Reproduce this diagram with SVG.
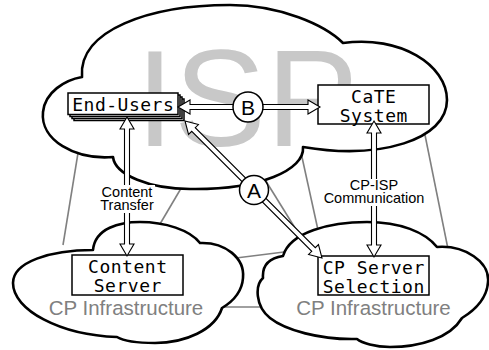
<svg xmlns="http://www.w3.org/2000/svg" width="489" height="350" viewBox="0 0 489 350">
<style>
.cloud{fill:#fff;stroke:#000;stroke-width:2.6;stroke-linejoin:round}
.link{stroke:#808080;stroke-width:1.6;fill:none}
.box{fill:#fff;stroke:#000;stroke-width:1.5}
.mono{font-family:"DejaVu Sans Mono","Liberation Mono",monospace;font-size:18px;letter-spacing:0.5px;fill:#000;text-anchor:middle}
.infra{font-family:"Liberation Sans",Arial,sans-serif;font-size:20.5px;fill:#808080;text-anchor:middle}
.lbl{font-family:"Liberation Sans",Arial,sans-serif;font-size:14.5px;fill:#000;text-anchor:middle}
.arrow{fill:#fff;stroke:#000;stroke-width:1.1;stroke-linejoin:miter}
.circ{fill:#fff;stroke:#000;stroke-width:1.5}
.ctext{font-family:"Liberation Sans",Arial,sans-serif;font-size:21px;fill:#000;text-anchor:middle}
</style>
<rect width="489" height="350" fill="#fff"/>
<g id="links">
<line class="link" x1="78" y1="153" x2="63" y2="245"/>
<line class="link" x1="183" y1="185" x2="160" y2="224"/>
<line class="link" x1="236" y1="258" x2="284" y2="252"/>
<line class="link" x1="220" y1="307" x2="264" y2="307"/>
<line class="link" x1="264" y1="178" x2="300" y2="236"/>
<line class="link" x1="300" y1="148" x2="318" y2="230"/>
<line class="link" x1="424" y1="130" x2="448" y2="249"/>
</g>
<g id="isp-cloud">
<path class="cloud" d="M 82,77 C 78,30 150,5 230,5 C 280,5 325,25 343,43 C 400,35 447,65 447,100 C 447,140 380,160 303,147 C 305,170 260,190 190,189 C 150,189 115,175 113,157 C 75,160 40,140 43,112 C 45,92 65,80 82,77 Z"/>
<text x="247" y="146" font-family="'Liberation Sans',Arial,sans-serif" font-size="138" fill="#c8c8c8" text-anchor="middle">ISP</text>
</g>
<g id="cp-cloud-left">
<path class="cloud" d="M 93,250 C 95,228 120,222 140,222 C 165,222 190,230 200,243 C 225,242 245,258 243,278 C 242,292 232,302 222,308 C 215,330 185,343 155,343 C 135,343 122,340 117,337 C 60,335 13,310 13,283 C 13,262 50,250 93,250 Z"/>
<text class="infra" x="126" y="315">CP Infrastructure</text>
</g>
<g id="cp-cloud-right">
<path class="cloud" d="M 283,256 C 290,232 330,222 367,222 C 400,222 425,232 437,247 C 465,245 490,262 488,282 C 487,298 475,310 462,318 C 450,338 420,347 390,347 C 375,347 362,343 357,339 C 320,340 285,330 270,318 C 255,306 255,285 263,278 C 262,265 270,258 283,256 Z"/>
<text class="infra" x="373.5" y="315">CP Infrastructure</text>
</g>
<g id="end-users">
<rect class="box" x="74" y="99" width="110" height="21.5"/>
<rect class="box" x="72" y="97" width="110" height="21.5"/>
<rect class="box" x="70" y="95" width="110" height="21.5"/>
<rect class="box" x="68" y="93" width="110" height="21.5"/>
<text class="mono" x="123.3" y="110.5">End-Users</text>
</g>
<g id="cate-system">
<rect class="box" x="318" y="85" width="111" height="39"/>
<text class="mono" x="373.8" y="103">CaTE</text>
<text class="mono" x="373.8" y="121.5">System</text>
</g>
<g id="content-server">
<rect class="box" x="72" y="255" width="111" height="40"/>
<text class="mono" x="127.8" y="273">Content</text>
<text class="mono" x="127.8" y="291.5">Server</text>
</g>
<g id="cp-server-selection">
<rect class="box" x="318" y="256" width="111" height="39"/>
<text class="mono" x="373.8" y="274">CP Server</text>
<text class="mono" x="373.8" y="292.5">Selection</text>
</g>
<g id="connectors">
<polygon class="arrow" points="127,117 134,129 129.5,129 129.5,244 134,244 127,256 120,244 124.5,244 124.5,129 120,129"/>
<polygon class="arrow" points="374,121 381,133 376.5,133 376.5,245 381,245 374,257 367,245 371.5,245 371.5,133 367,133"/>
<polygon class="arrow" points="178,107 190,100 190,104.5 308,104.5 308,100 320,107 308,114 308,109.5 190,109.5 190,114"/>
<polygon class="arrow" points="185,121 198.44,124.54 195.26,127.72 315.28,247.74 318.46,244.56 322,258 308.56,254.46 311.74,251.28 191.72,131.26 188.54,134.44"/>
<rect x="99" y="185" width="56" height="28" fill="#fff"/>
<text class="lbl" x="127" y="197">Content</text>
<text class="lbl" x="127" y="210">Transfer</text>
<rect x="322" y="179" width="104" height="27" fill="#fff"/>
<text class="lbl" x="374" y="190">CP-ISP</text>
<text class="lbl" x="374" y="203">Communication</text>
<circle class="circ" cx="248" cy="107" r="15"/>
<text class="ctext" x="248" y="114.5">B</text>
<circle class="circ" cx="254" cy="190" r="14.5"/>
<text class="ctext" x="254" y="197.5">A</text>
</g>
</svg>
